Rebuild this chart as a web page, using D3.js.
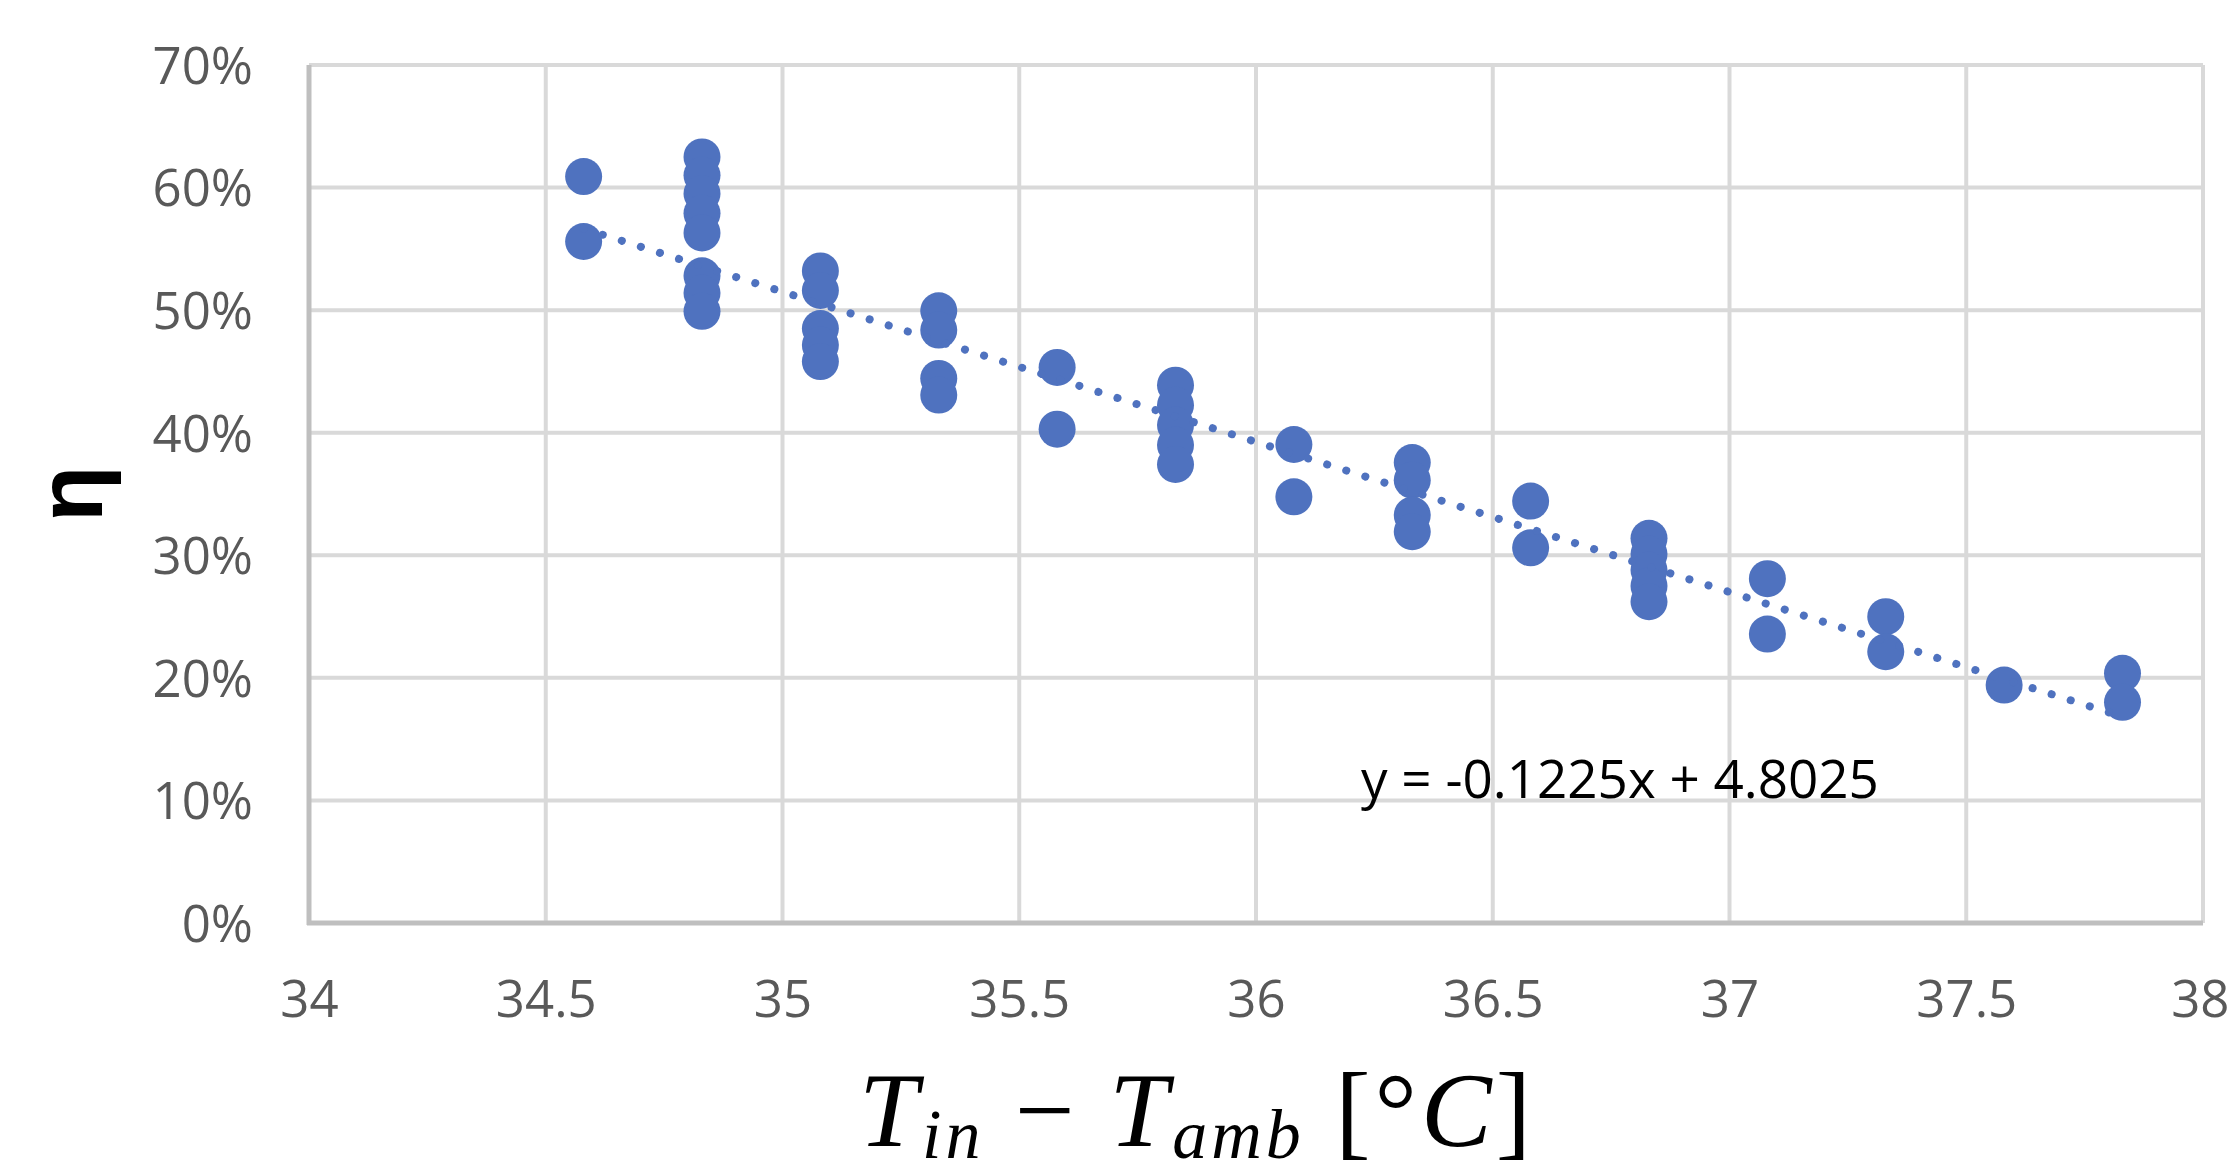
<!DOCTYPE html>
<html>
<head>
<meta charset="utf-8">
<script src="https://cdn.jsdelivr.net/npm/d3@7"></script>
<style>
  html, body { margin: 0; padding: 0; background: #ffffff; }
  svg { display: block; }
</style>
</head>
<body>
<svg id="chart" width="2231" height="1176"></svg>
<script>
// ---- data ----
const xValues = [
  34.58, 34.58,
  34.83, 34.83, 34.83, 34.83, 34.83, 34.83, 34.83, 34.83,
  35.08, 35.08, 35.08, 35.08, 35.08,
  35.33, 35.33, 35.33, 35.33,
  35.58, 35.58,
  35.83, 35.83, 35.83, 35.83, 35.83,
  36.08, 36.08,
  36.33, 36.33, 36.33, 36.33,
  36.58, 36.58,
  36.83, 36.83, 36.83, 36.83, 36.83,
  37.08, 37.08,
  37.33, 37.33,
  37.58,
  37.83, 37.83
];
const etaValues = [
  0.609, 0.556,
  0.625, 0.610, 0.595, 0.579, 0.563, 0.528, 0.514, 0.499,
  0.532, 0.516, 0.485, 0.4715, 0.458,
  0.4995, 0.4837, 0.4443, 0.4307,
  0.4533, 0.4029,
  0.4388, 0.4225, 0.4062, 0.3899, 0.3741,
  0.3904, 0.3477,
  0.3757, 0.3613, 0.3328, 0.3192,
  0.3442, 0.3061,
  0.3138, 0.301, 0.288, 0.275, 0.2621,
  0.2809, 0.2357,
  0.2499, 0.2213,
  0.1941,
  0.2037, 0.180
];
const xTicks = [34, 34.5, 35, 35.5, 36, 36.5, 37, 37.5, 38];
const yTicks = [0, 0.1, 0.2, 0.3, 0.4, 0.5, 0.6, 0.7];
const trendSlope = -0.1225;
const trendIntercept = 4.8025;
const trendLabel = "y = -0.1225x + 4.8025";

// ---- layout ----
const W = 2231;
const svg = d3.select("#chart");
const pLeft = 309, pRight = 2203, pTop = 65, pBottom = 923;
const x = d3.scaleLinear().domain([34, 38]).range([pLeft, pRight]);
const y = d3.scaleLinear().domain([0, 0.7]).range([pBottom, pTop]);
const blue = "#4f72bf";

svg.append("rect").attr("width", W).attr("height", 1176).attr("fill", "#fff");

// gridlines
const grid = svg.append("g");
grid.selectAll("line.h").data(yTicks.filter(d => d > 0)).join("line")
  .attr("class", "h")
  .attr("x1", pLeft).attr("x2", pRight)
  .attr("y1", d => y(d)).attr("y2", d => y(d))
  .attr("stroke", "#d9d9d9").attr("stroke-width", 4);
grid.selectAll("line.v").data(xTicks.filter(d => d > 34)).join("line")
  .attr("class", "v")
  .attr("x1", d => x(d)).attr("x2", d => x(d))
  .attr("y1", pTop).attr("y2", pBottom)
  .attr("stroke", "#d9d9d9").attr("stroke-width", 4);

// axes lines
svg.append("line").attr("x1", pLeft).attr("x2", pLeft).attr("y1", pTop).attr("y2", pBottom + 2)
  .attr("stroke", "#bfbfbf").attr("stroke-width", 5);
svg.append("line").attr("x1", pLeft - 2).attr("x2", pRight).attr("y1", pBottom).attr("y2", pBottom)
  .attr("stroke", "#bfbfbf").attr("stroke-width", 5);

// y axis labels
const yAxis = d3.axisLeft(y).tickValues(yTicks).tickFormat(d3.format(".0%")).tickSize(0).tickPadding(56);
const gy = svg.append("g").attr("transform", `translate(${pLeft},0)`).call(yAxis);
gy.select(".domain").remove();
gy.selectAll("text").attr("font-family", "'Open Sans', sans-serif").attr("font-size", 51)
  .attr("fill", "#595959").attr("dy", "0.36em");

// x axis labels
const xAxis = d3.axisBottom(x).tickValues(xTicks).tickFormat(d => String(d)).tickSize(0).tickPadding(58);
const gx = svg.append("g").attr("transform", `translate(0,${pBottom})`).call(xAxis);
gx.select(".domain").remove();
gx.selectAll("text").attr("font-family", "'Open Sans', sans-serif").attr("font-size", 51)
  .attr("fill", "#595959");
// keep the last label inside the picture
gx.selectAll("text").filter(d => d === 38).attr("text-anchor", "end").attr("x", W - 2 - x(38));

// points
const pts = xValues.map((v, i) => ({ x: v, y: etaValues[i] }));
svg.append("g").selectAll("circle").data(pts).join("circle")
  .attr("cx", d => x(d.x)).attr("cy", d => y(d.y)).attr("r", 18.5)
  .attr("fill", blue);

// trendline
const xMin = d3.min(xValues), xMax = d3.max(xValues);
svg.append("line")
  .attr("x1", x(xMin)).attr("y1", y(trendSlope * xMin + trendIntercept))
  .attr("x2", x(xMax)).attr("y2", y(trendSlope * xMax + trendIntercept))
  .attr("stroke", blue).attr("stroke-width", 8).attr("stroke-linecap", "round")
  .attr("stroke-dasharray", "0.1 19.9");

// equation label
svg.append("text").attr("x", 1361).attr("y", 798)
  .attr("font-family", "'Open Sans', sans-serif").attr("font-size", 53).attr("fill", "#000")
  .text(trendLabel);

// y title
svg.append("text")
  .attr("transform", "translate(102,494) rotate(-90)")
  .attr("text-anchor", "middle")
  .attr("font-family", "'Liberation Sans', sans-serif").attr("font-weight", "bold")
  .attr("font-size", 92).attr("fill", "#000")
  .text("η");

// x title
const xt = svg.append("text").attr("x", 1197).attr("y", 1146).attr("text-anchor", "middle")
  .attr("font-family", "'Liberation Serif', serif").attr("font-size", 106)
  .attr("letter-spacing", 4).attr("fill", "#000");
xt.append("tspan").attr("font-style", "italic").text("T");
xt.append("tspan").attr("font-style", "italic").attr("font-size", 70).attr("dy", 12).text("in");
xt.append("tspan").attr("dy", -12).text(" − ");
xt.append("tspan").attr("font-style", "italic").text("T");
xt.append("tspan").attr("font-style", "italic").attr("font-size", 70).attr("dy", 12).text("amb");
xt.append("tspan").attr("dy", -12).text(" [°");
xt.append("tspan").attr("font-style", "italic").text("C");
xt.append("tspan").text("]");
</script>
</body>
</html>
